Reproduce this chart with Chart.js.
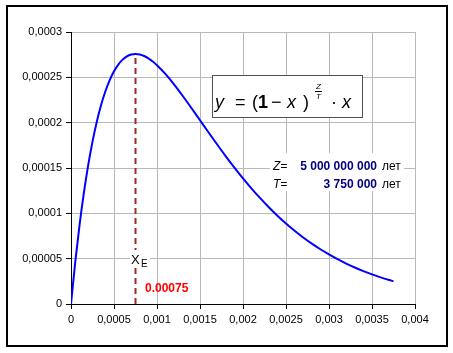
<!DOCTYPE html>
<html><head><meta charset="utf-8">
<script src="https://cdn.jsdelivr.net/npm/chart.js@4"></script>
<style>html,body{margin:0;padding:0;background:#fff}#wrap{width:453px;height:353px}</style>
</head><body><div id="wrap"><canvas id="c" width="453" height="353"></canvas></div>
<script>
// x values (fraction) and y values
const xValues = [0,0.00005,0.0001,0.00015,0.0002,0.00025,0.0003,0.00035,0.0004,0.00045,0.0005,0.00055,0.0006,0.00065,0.0007,0.00075,0.0008,0.00085,0.0009,0.00095,0.001,0.0011,0.0012,0.0013,0.0014,0.0015,0.0016,0.0017,0.0018,0.0019,0.002,0.0021,0.0022,0.0023,0.0024,0.0025,0.0026,0.0027,0.0028,0.0029,0.003,0.0031,0.0032,0.0033,0.0034,0.0035,0.0036,0.0037,0.00375];
const yValues = [0,0.0000468,0.0000875,0.0001228,0.0001532,0.0001791,0.0002011,0.0002195,0.0002346,0.0002469,0.0002567,0.0002641,0.0002695,0.0002732,0.0002752,0.0002758,0.0002752,0.0002735,0.0002709,0.0002675,0.0002634,0.0002535,0.000242,0.0002294,0.0002162,0.0002027,0.0001892,0.0001759,0.0001629,0.0001505,0.0001386,0.0001273,0.0001167,0.0001067,0.0000974,0.0000888,0.0000808,0.0000734,0.0000666,0.0000604,0.0000547,0.0000494,0.0000446,0.0000403,0.0000363,0.0000327,0.0000294,0.0000264,0.0000251];
const xE = 0.00075;
const peakY = 0.0002758;
const xTicks = [0,0.0005,0.001,0.0015,0.002,0.0025,0.003,0.0035,0.004];
const yTicks = [0,0.00005,0.0001,0.00015,0.0002,0.00025,0.0003];
const labelZ = "5 000 000 000";
const labelT = "3 750 000";
const labelXE = "0.00075";

const fmt = v => String(+v.toPrecision(6)).replace('.', ',');

const curve = xValues.map((x,i)=>({x:x,y:yValues[i]}));
const dashLine = [{x:xE,y:0},{x:xE,y:peakY}];

const overlay = {
  id:'overlay',
  beforeDraw(chart){
    const c=chart.ctx; c.save(); c.fillStyle='#fff'; c.fillRect(0,0,chart.width,chart.height); c.restore();
  },
  afterDatasetsDraw(chart){
    const c=chart.ctx; c.save();
    // equation box
    c.fillStyle='#fff'; c.fillRect(212,75,150,42);
    c.strokeStyle='#505050'; c.lineWidth=1; c.strokeRect(212.5,75.5,150,42);
    c.fillStyle='#000'; c.textBaseline='alphabetic'; c.textAlign='left';
    const base=108;
    const F='"Liberation Sans"';
    c.font='italic 18px '+F; c.fillText('y',215,base);
    c.font='18px '+F; c.fillText('=',235,base);
    c.fillText('(',252,base);
    c.font='bold 18px '+F; c.fillText('1',258,base);
    c.font='18px '+F; c.fillText('\u2212',271,base);
    c.font='italic 18px '+F; c.fillText('x',287,base);
    c.font='18px '+F; c.fillText(')',303,base);
    c.font='italic 8px '+F; c.fillText('Z',316,89); c.fillText('T',316,99);
    c.fillRect(315,91,7,1);
    c.font='18px '+F; c.fillText('\u00b7',331,base);
    c.font='italic 18px '+F; c.fillText('x',342,base);
    // Z/T box
    c.fillStyle='#fff'; c.fillRect(270,153,134,38);
    c.font='italic 12px '+F; c.fillStyle='#000';
    c.fillText('Z=',273,170); c.fillText('T=',273,188);
    c.font='bold 12px '+F; c.fillStyle='#000080'; c.textAlign='right';
    c.fillText(labelZ,377,170); c.fillText(labelT,377,188);
    c.font='12px '+F; c.fillStyle='#000'; c.textAlign='left';
    c.fillText('лет',382,170); c.fillText('лет',382,188);
    // X_E label
    c.fillStyle='#fff'; c.fillRect(130,250,20,18);
    c.fillStyle='#000'; c.font='13px '+F;
    c.fillText('X',131,264);
    c.font='10px '+F; c.fillText('E',141,267);
    c.fillStyle='#ff0000'; c.font='bold 12px '+F;
    c.fillText(labelXE,145,292);
    c.restore();
  },
  afterDraw(chart){
    const c=chart.ctx; c.save(); c.strokeStyle='#000'; c.lineWidth=2;
    c.strokeRect(7,6,440,340); c.restore();
  }
};

new Chart(document.getElementById('c'),{
  type:'scatter',
  data:{datasets:[
    {data:curve,showLine:true,borderColor:'#0000ff',borderWidth:2,pointRadius:0,tension:0,cubicInterpolationMode:'monotone',order:2},
    {data:dashLine,showLine:true,borderColor:'#a0282a',borderWidth:2,borderDash:[6,4],pointRadius:0,order:1}
  ]},
  options:{
    responsive:false,animation:false,
    layout:{padding:{top:32,right:38,left:0,bottom:0}},
    plugins:{legend:{display:false},tooltip:{enabled:false}},
    scales:{
      x:{type:'linear',min:0,max:0.004,
        afterBuildTicks(s){s.ticks=xTicks.map(v=>({value:v}));},
        afterFit(s){s.height=49;},
        grid:{color:'#b8b8b8',tickColor:'#000',tickLength:5,drawTicks:true},
        border:{color:'#000',width:1},
        ticks:{color:'#000',font:{family:'"Liberation Sans"',size:11},padding:4,maxRotation:0,autoSkip:false,callback:v=>fmt(v)}},
      y:{type:'linear',min:0,max:0.0003,
        afterBuildTicks(s){s.ticks=yTicks.map(v=>({value:v}));},
        afterFit(s){s.width=71;},
        grid:{color:'#b8b8b8',tickColor:'#000',tickLength:5},
        border:{color:'#000',width:1},
        ticks:{color:'#000',font:{family:'"Liberation Sans"',size:11},padding:4,callback:v=>fmt(v)}}
    }
  },
  plugins:[overlay]
});
</script></body></html>
